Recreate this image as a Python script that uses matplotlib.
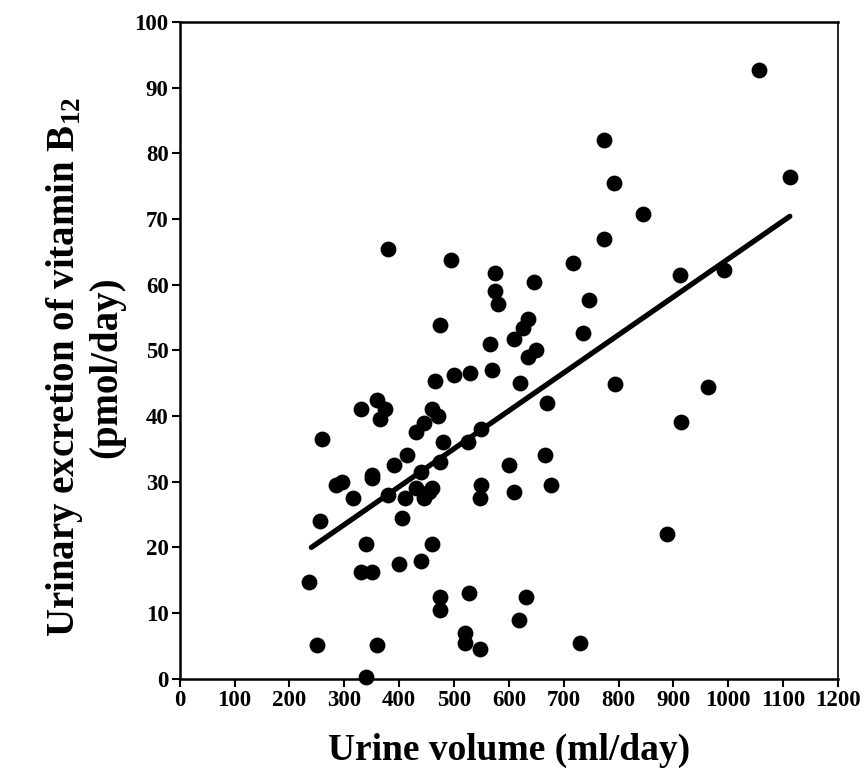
import numpy as np
import matplotlib
matplotlib.use("Agg")
import matplotlib.pyplot as plt

plt.rcParams['font.family'] = ['Liberation Serif', 'DejaVu Serif']
plt.rcParams['mathtext.fontset'] = 'custom'
plt.rcParams['mathtext.rm'] = 'Liberation Serif:bold'
plt.rcParams['mathtext.bf'] = 'Liberation Serif:bold'

# urine volume (ml/day) and urinary B12 excretion (pmol/day)
urine_ml = [1055, 773, 792, 845, 1112, 773, 380, 495, 716, 575,
            912, 992, 575, 580, 746, 645, 475, 635, 625, 610,
            735, 650, 635, 565, 500, 530, 570, 465, 620, 794,
            962, 330, 360, 375, 365, 460, 470, 445, 430, 670,
            914, 480, 525, 550, 415, 665, 475, 440, 350, 350,
            260, 285, 295, 315, 390, 380, 410, 430, 445, 455,
            460, 550, 548, 600, 610, 677, 405, 255, 235, 340,
            440, 460, 400, 330, 350, 888, 475, 475, 528, 632,
            618, 520, 520, 548, 730, 250, 360, 340]
b12_pmol = [92.7, 82, 75.4, 70.8, 76.4, 67, 65.5, 63.8, 63.3, 61.8,
            61.4, 62.3, 59, 57, 57.7, 60.4, 53.8, 54.8, 53.4, 51.8,
            52.7, 50, 49, 51, 46.3, 46.5, 47, 45.3, 45, 44.8,
            44.4, 41, 42.5, 41, 39.5, 41, 40, 39, 37.5, 42,
            39.1, 36, 36, 38, 34, 34, 33, 31.5, 31, 30.5,
            36.5, 29.5, 30, 27.5, 32.5, 28, 27.5, 29, 27.5, 28.5,
            29, 29.5, 27.5, 32.5, 28.5, 29.5, 24.5, 24, 14.8, 20.5,
            18, 20.5, 17.5, 16.2, 16.2, 22, 12.5, 10.5, 13, 12.5,
            9, 7, 5.5, 4.5, 5.5, 5.2, 5.2, 0.2]

# regression line end points
fit_x = [240, 1112]
fit_y = [20, 70.4]

fig = plt.figure(figsize=(8.64, 7.82), dpi=100)
ax = fig.add_axes([0.208, 0.132, 0.762, 0.840])

ax.scatter(urine_ml, b12_pmol, s=130, color='black', zorder=3, clip_on=False, linewidths=0)
ax.plot(fit_x, fit_y, color='black', lw=3.8, solid_capstyle='round', zorder=2)

ax.set_xlim(0, 1200)
ax.set_ylim(0, 100)
ax.set_xticks(np.arange(0, 1201, 100))
ax.set_yticks(np.arange(0, 101, 10))
ax.tick_params(direction='out', length=6, width=1.5, labelsize=16.5, pad=2)
for lab in ax.get_xticklabels() + ax.get_yticklabels():
    lab.set_fontweight('bold')

for side in ['left', 'bottom', 'top']:
    ax.spines[side].set_linewidth(1.8)
ax.spines['right'].set_linewidth(1.2)

ax.set_xlabel('Urine volume (ml/day)', fontsize=27, fontweight='bold', labelpad=16)
ax.set_ylabel('Urinary excretion of vitamin B$_{12}$\n(pmol/day)', fontsize=28,
              fontweight='bold', linespacing=1.1)
ax.yaxis.set_label_coords(-0.083, 0.475)

fig.savefig('out.png', dpi=100)
